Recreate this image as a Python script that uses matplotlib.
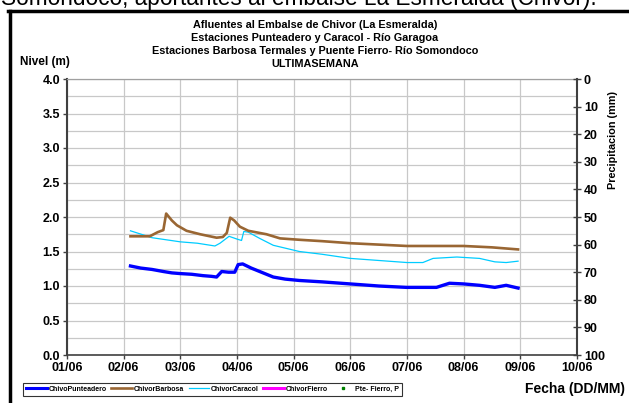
import matplotlib
matplotlib.use("Agg")
import matplotlib.pyplot as plt
from matplotlib.lines import Line2D
import numpy as np

plt.rcParams['font.family'] = ['Liberation Sans', 'DejaVu Sans']

# ---- data (days since 01/06) ----
x_labels = ['01/06', '02/06', '03/06', '04/06', '05/06', '06/06', '07/06', '08/06', '09/06', '10/06']

punteadero_t = [1.12, 1.3, 1.5, 1.7, 1.85, 2.0, 2.2, 2.4, 2.55, 2.64, 2.73, 2.85, 2.96, 3.02, 3.1, 3.25,
                3.4, 3.64, 3.85, 4.1, 4.5, 5.0, 5.5, 5.99, 6.3, 6.52, 6.75, 7.0, 7.28, 7.55, 7.75, 7.96]
punteadero_v = [1.29, 1.26, 1.24, 1.21, 1.19, 1.18, 1.17, 1.15, 1.14, 1.13, 1.21, 1.20, 1.20, 1.31, 1.32, 1.26,
                1.21, 1.13, 1.10, 1.08, 1.06, 1.03, 1.00, 0.98, 0.98, 0.98, 1.04, 1.03, 1.01, 0.98, 1.01, 0.97]

barbosa_t = [1.12, 1.46, 1.6, 1.7, 1.75, 1.85, 1.94, 2.11, 2.35, 2.64, 2.75, 2.82, 2.88, 2.95, 3.05, 3.2,
             3.52, 3.76, 4.1, 4.5, 5.0, 5.5, 6.0, 6.5, 7.0, 7.5, 7.96]
barbosa_v = [1.72, 1.72, 1.78, 1.81, 2.05, 1.95, 1.88, 1.80, 1.75, 1.70, 1.71, 1.77, 1.99, 1.95, 1.86, 1.80,
             1.75, 1.69, 1.67, 1.65, 1.62, 1.60, 1.58, 1.58, 1.58, 1.56, 1.53]

caracol_t = [1.12, 1.5, 2.0, 2.3, 2.61, 2.7, 2.86, 3.0, 3.08, 3.12, 3.2, 3.4, 3.64, 4.1, 4.5, 5.0, 5.5,
             6.0, 6.28, 6.46, 6.88, 7.28, 7.55, 7.75, 7.96]
caracol_v = [1.80, 1.70, 1.64, 1.62, 1.58, 1.62, 1.72, 1.68, 1.66, 1.79, 1.78, 1.69, 1.59, 1.50, 1.46, 1.40, 1.37,
             1.34, 1.34, 1.40, 1.42, 1.40, 1.35, 1.34, 1.36]

title_lines = ['Afluentes al Embalse de Chivor (La Esmeralda)',
               'Estaciones Punteadero y Caracol - Río Garagoa',
               'Estaciones Barbosa Termales y Puente Fierro- Río Somondoco',
               'ULTIMASEMANA']

W, H = 629, 403
fig = plt.figure(figsize=(W / 100, H / 100), dpi=100, facecolor='white')

def fx(px):
    return px / W

def fy(py):
    return 1 - py / H

ax = fig.add_axes([fx(67), fy(355), fx(577) - fx(67), fy(79) - fy(355)])
ax.set_xlim(0, 9)
ax.set_ylim(0, 4)

ax.plot(caracol_t, caracol_v, color='#00CCFF', lw=0.9, zorder=3)
ax.plot(barbosa_t, barbosa_v, color='#996633', lw=1.9, zorder=4)
ax.plot(punteadero_t, punteadero_v, color='#0000FF', lw=2.4, zorder=5)

ax.set_xticks(range(10))
ax.set_xticklabels(x_labels)
ax.set_yticks(np.arange(0, 4.01, 0.5))
ax.set_yticklabels([f'{v:.1f}' for v in np.arange(0, 4.01, 0.5)])
ax.set_yticks(np.arange(0, 4.01, 0.25), minor=True)
ax.grid(True, which='both', axis='y', color='#C8C8C8', lw=0.9)
ax.grid(True, which='major', axis='x', color='#C8C8C8', lw=0.9)
ax.tick_params(axis='y', which='minor', length=0)
ax.tick_params(axis='both', which='major', labelsize=9, length=3, width=1, color='#404040', pad=2)
for lab in ax.get_xticklabels() + ax.get_yticklabels():
    lab.set_fontweight('bold')
ax.spines['left'].set_color('#404040')
ax.spines['left'].set_linewidth(1.5)
ax.spines['bottom'].set_color('#404040')
ax.spines['bottom'].set_linewidth(1.2)
ax.spines['top'].set_color('#A0A0A0')
ax.spines['top'].set_linewidth(0.9)
ax.spines['right'].set_visible(False)
ax.set_axisbelow(True)

ax2 = ax.twinx()
ax2.set_ylim(100, 0)
ax2.set_yticks(range(0, 101, 10))
ax2.tick_params(axis='y', labelsize=9, length=6, width=1, direction='inout', color='#404040', pad=2)
for lab in ax2.get_yticklabels():
    lab.set_fontweight('bold')
for s in ['left', 'top', 'bottom']:
    ax2.spines[s].set_visible(False)
ax2.spines['right'].set_color('#404040')
ax2.spines['right'].set_linewidth(1.5)
fig.text(fx(613), fy(140), 'Precipitacion (mm)', rotation=90, ha='center', va='center',
         fontsize=7.8, fontweight='bold')

# titles
for i, line in enumerate(title_lines):
    fig.text(fx(315), fy(25 + i * 13), line, ha='center', va='center', fontsize=7.8, fontweight='bold')
fig.text(fx(45), fy(62), 'Nivel (m)', ha='center', va='center', fontsize=8.5, fontweight='bold')
fig.text(fx(575), fy(389), 'Fecha (DD/MM)', ha='center', va='center', fontsize=10, fontweight='bold')

# legend
handles = [Line2D([], [], color='#0000FF', lw=2.2),
           Line2D([], [], color='#996633', lw=1.9),
           Line2D([], [], color='#00CCFF', lw=0.9),
           Line2D([], [], color='#FF00FF', lw=2.2),
           Line2D([], [], color='#008000', lw=0, marker='s', markersize=1.5)]
labels = ['ChivoPunteadero', 'ChivorBarbosa', 'ChivorCaracol', 'ChivorFierro', 'Pte- Fierro, P']
leg = fig.legend(handles, labels, ncol=5, loc='lower left',
                 bbox_to_anchor=(fx(23), fy(396), fx(402) - fx(23), fy(381) - fy(396)),
                 mode='expand', fontsize=5, frameon=True, fancybox=False, borderaxespad=0,
                 handlelength=3.0, handletextpad=0.2, columnspacing=0.8, borderpad=0.45)
leg.get_frame().set_edgecolor('black')
leg.get_frame().set_linewidth(0.8)
for t in leg.get_texts():
    t.set_fontweight('bold')

# cut-off surrounding text and frame
fig.text(fx(1), fy(5.5), 'Somondoco, aportantes al embalse La Esmeralda (Chivor).',
         ha='left', va='baseline', fontsize=16.3)
fig.add_artist(Line2D([fx(8), 1.0], [fy(10.5), fy(10.5)], color='black', lw=2.5, transform=fig.transFigure))
fig.add_artist(Line2D([fx(9.5), fx(9.5)], [fy(10.5), 0], color='black', lw=2.5, transform=fig.transFigure))

fig.savefig('out.png', dpi=100, facecolor='white')
